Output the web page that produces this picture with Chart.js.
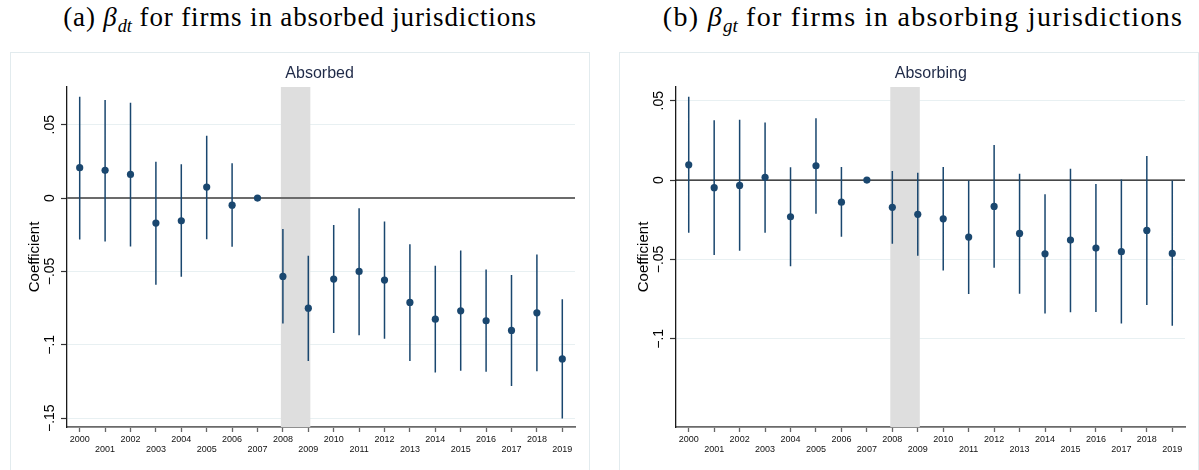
<!DOCTYPE html>
<html>
<head>
<meta charset="utf-8">
<script src="https://cdn.jsdelivr.net/npm/chart.js@4/dist/chart.umd.min.js"></script>
<style>
  html, body { margin: 0; padding: 0; background: #fff; width: 1199px; height: 470px; overflow: hidden; }
  .title {
    position: absolute; top: 0; white-space: nowrap; transform: translateX(-50%);
    font-family: "Liberation Serif", "DejaVu Serif", serif; font-size: 27px; letter-spacing: 0.85px;
    line-height: 34px; color: #000;
  }
  #titleB { font-size: 28px; letter-spacing: 1.3px; }
  .title i { font-style: italic; }
  .title sub { font-size: 68%; font-style: italic; vertical-align: -0.3em; line-height: 0; letter-spacing: 0; }
  .panel { position: absolute; top: 52px; height: 430px; border: 1px solid #e2ebee; box-sizing: border-box; overflow: hidden; }
  #panelA { left: 10px; width: 580px; }
  #panelB { left: 619px; width: 580px; }
  canvas { position: absolute; left: 0; top: 0; }
</style>
</head>
<body>
<div class="title" id="titleA" style="left:300px">(a) <i>β</i><sub>dt</sub> for firms in absorbed jurisdictions</div>
<div class="title" id="titleB" style="left:923px">(b) <i>β</i><sub>gt</sub> for firms in absorbing jurisdictions</div>
<div class="panel" id="panelA"><canvas id="chartA" width="578" height="418"></canvas></div>
<div class="panel" id="panelB"><canvas id="chartB" width="578" height="418"></canvas></div>
<script>
// Event-study years
const years = [2000, 2001, 2002, 2003, 2004, 2005, 2006, 2007, 2008, 2009,
               2010, 2011, 2012, 2013, 2014, 2015, 2016, 2017, 2018, 2019];

// (a) absorbed jurisdictions: point estimates and 95% CI bounds (2007 = base year)
const coefA = [0.0207, 0.0189, 0.0161, -0.0170, -0.0155, 0.0075, -0.0048, 0, -0.0534, -0.0750,
               -0.0552, -0.0500, -0.0559, -0.0711, -0.0825, -0.0768, -0.0836, -0.0902, -0.0782, -0.1096];
const loA   = [-0.0282, -0.0296, -0.0330, -0.0590, -0.0536, -0.0280, -0.0332, null, -0.0855, -0.1110,
               -0.0920, -0.0934, -0.0959, -0.1110, -0.1189, -0.1177, -0.1184, -0.1280, -0.1180, -0.1502];
const hiA   = [0.0690, 0.0668, 0.0650, 0.0248, 0.0230, 0.0425, 0.0237, null, -0.0211, -0.0393,
               -0.0184, -0.0070, -0.0159, -0.0314, -0.0461, -0.0357, -0.0486, -0.0525, -0.0384, -0.0689];

// (b) absorbing jurisdictions
const coefB = [0.0096, -0.0048, -0.0034, 0.0017, -0.0231, 0.0090, -0.0139, 0, -0.0172, -0.0216,
               -0.0244, -0.0359, -0.0166, -0.0336, -0.0464, -0.0378, -0.0428, -0.0451, -0.0317, -0.0462];
const loB   = [-0.0332, -0.0472, -0.0445, -0.0332, -0.0542, -0.0212, -0.0357, null, -0.0401, -0.0477,
               -0.0569, -0.0718, -0.0552, -0.0716, -0.0840, -0.0833, -0.0831, -0.0903, -0.0787, -0.0917];
const hiB   = [0.0525, 0.0376, 0.0380, 0.0363, 0.0080, 0.0390, 0.0082, null, 0.0057, 0.0046,
               0.0082, -0.0002, 0.0220, 0.0040, -0.0090, 0.0071, -0.0025, 0.0004, 0.0151, -0.0002];

// y-axis ticks and their labels
const yTicksA = [-0.15, -0.1, -0.05, 0, 0.05];
const yTickLabelsA = ['\u2212.15', '\u2212.1', '\u2212.05', '0', '.05'];
const yTicksB = [-0.1, -0.05, 0, 0.05];
const yTickLabelsB = ['\u2212.1', '\u2212.05', '0', '.05'];

// Shaded reform window (in year units)
const shadeWindow = [2007.92, 2009.08];

const NAVY = '#1a476f';

function errorBarPoints(lo, hi) {
  const pts = [];
  years.forEach((yr, i) => {
    if (lo[i] === null || hi[i] === null) return;
    pts.push({ x: yr, y: lo[i] }, { x: yr, y: hi[i] }, { x: yr, y: null });
  });
  return pts;
}

const shadePlugin = {
  id: 'shade',
  beforeDatasetsDraw(chart, args, opts) {
    const { ctx, chartArea } = chart;
    const xs = chart.scales.x;
    const x0 = xs.getPixelForValue(shadeWindow[0]);
    const x1 = xs.getPixelForValue(shadeWindow[1]);
    ctx.save();
    ctx.fillStyle = '#dedede';
    ctx.fillRect(x0, chartArea.top, x1 - x0, chartArea.bottom - chartArea.top);
    ctx.restore();
  },
  afterDraw(chart, args, opts) {
    const { ctx, chartArea } = chart;
    const x0 = chart.scales.x.getPixelForValue(shadeWindow[0]);
    ctx.save();
    ctx.fillStyle = '#1f2a48';
    ctx.font = '16px "Liberation Sans", Arial, sans-serif';
    ctx.textAlign = 'left';
    ctx.textBaseline = 'middle';
    ctx.fillText(opts.caption, x0 + 4.5, chartArea.top - 13);
    ctx.restore();
  }
};

function makeChart(id, cfg) {
  const zero = [{ x: 1999.5, y: 0 }, { x: 2019.5, y: 0 }];
  return new Chart(document.getElementById(id), {
    type: 'scatter',
    data: {
      datasets: [
        { data: years.map((x, i) => ({ x, y: cfg.coef[i] })), pointRadius: 3.6,
          pointBackgroundColor: NAVY, pointBorderWidth: 0, showLine: false },
        { data: errorBarPoints(cfg.lo, cfg.hi), showLine: true, spanGaps: false,
          borderColor: NAVY, borderWidth: 1.5, pointRadius: 0 },
        { data: zero, showLine: true, borderColor: cfg.zeroColor, borderWidth: cfg.zeroWidth, pointRadius: 0 }
      ]
    },
    options: {
      responsive: false,
      animation: false,
      devicePixelRatio: 1,
      layout: { padding: { left: 0, top: 34, right: cfg.padRight, bottom: 0 } },
      plugins: { legend: { display: false }, tooltip: { enabled: false }, shade: { caption: cfg.caption } },
      scales: {
        x: {
          type: 'linear', min: 1999.5, max: 2019.5,
          afterBuildTicks: s => { s.ticks = years.map(v => ({ value: v })); },
          afterFit: s => { s.height = 44; },
          grid: { drawOnChartArea: false, drawTicks: true, tickLength: 5, tickColor: '#666', tickWidth: 1.3 },
          border: { display: true, color: '#6a6a6a', width: 1.8 },
          ticks: {
            autoSkip: false, maxRotation: 0, minRotation: 0, padding: 3, color: '#111',
            font: { family: '"Liberation Sans", Arial, sans-serif', size: 9, lineHeight: '9.5px' },
            callback: v => (v % 2 === 0 ? [String(v)] : ['', String(v)])
          }
        },
        y: {
          type: 'linear', min: cfg.yMin, max: cfg.yMax,
          afterBuildTicks: s => { s.ticks = cfg.yTicks.map(v => ({ value: v })); },
          afterFit: s => { s.width = 56; },
          grid: { color: '#e8f0f2', lineWidth: 1, drawTicks: true, tickLength: 6, tickColor: '#333', tickWidth: 1.2 },
          border: { display: true, color: '#1a1a1a', width: 1.3 },
          ticks: {
            minRotation: 90, maxRotation: 90, crossAlign: 'center', padding: -3, color: '#000',
            font: { family: '"Liberation Sans", Arial, sans-serif', size: 14 },
            callback: v => cfg.yLabels[cfg.yTicks.findIndex(t => Math.abs(t - v) < 1e-9)]
          },
          title: {
            display: true, text: 'Coefficient', color: '#000',
            font: { family: '"Liberation Sans", Arial, sans-serif', size: 15 },
            padding: { top: 15, bottom: 0 }
          }
        }
      }
    },
    plugins: [shadePlugin]
  });
}

makeChart('chartA', {
  coef: coefA, lo: loA, hi: hiA, yTicks: yTicksA, yLabels: yTickLabelsA,
  yMin: -0.156, yMax: 0.0757, caption: 'Absorbed', padRight: 14,
  zeroColor: '#6b6b6b', zeroWidth: 2
});
makeChart('chartB', {
  coef: coefB, lo: loB, hi: hiB, yTicks: yTicksB, yLabels: yTickLabelsB,
  yMin: -0.1555, yMax: 0.0586, caption: 'Absorbing', padRight: 13,
  zeroColor: '#111', zeroWidth: 1.2
});
</script>
</body>
</html>
